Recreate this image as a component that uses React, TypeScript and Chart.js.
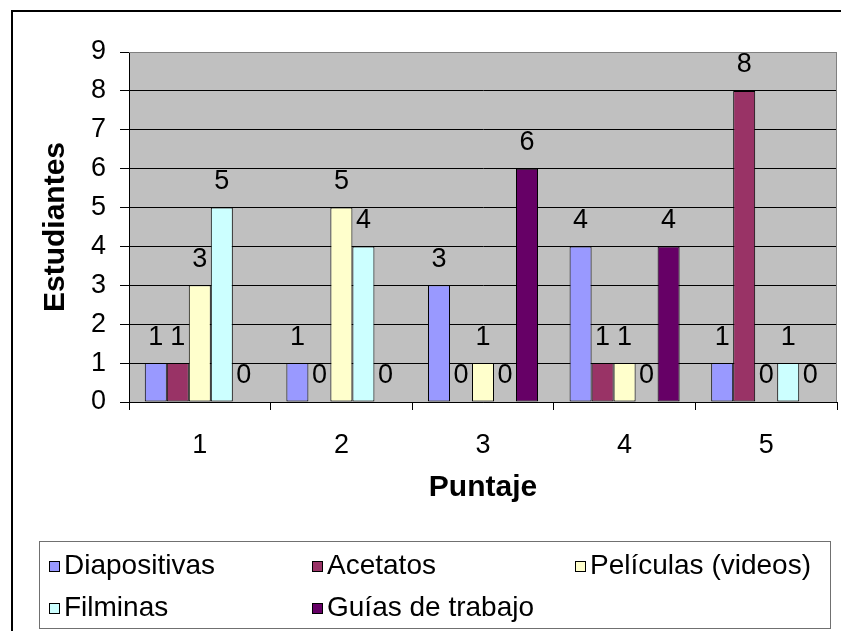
import React, { useEffect, useRef } from "react";
import { Chart, registerables } from "chart.js";

Chart.register(...registerables);

const categories = ["1", "2", "3", "4", "5"];
const diapositivas = [1, 1, 3, 4, 1];
const acetatos = [1, 0, 0, 1, 8];
const peliculas = [3, 5, 1, 1, 0];
const filminas = [5, 4, 0, 0, 1];
const guias = [0, 0, 6, 4, 0];
const seriesNames = ["Diapositivas", "Acetatos", "Películas (videos)", "Filminas", "Guías de trabajo"];
const seriesColors = ["#9999FF", "#993366", "#FFFFCC", "#CCFFFF", "#660066"];
const yMin = 0;
const yMax = 9;
const yStep = 1;
const xTitle = "Puntaje";
const yTitle = "Estudiantes";

const FONT = "'Liberation Sans', Arial, sans-serif";

const bgPlugin = {
  id: "bgPlugin",
  beforeDraw(chart: any) {
    const { ctx, chartArea } = chart;
    ctx.save();
    ctx.fillStyle = "#FFFFFF";
    ctx.fillRect(0, 0, chart.width, chart.height);
    ctx.fillStyle = "#C0C0C0";
    ctx.fillRect(chartArea.left, chartArea.top, chartArea.right - chartArea.left, chartArea.bottom - chartArea.top);
    ctx.restore();
  },
  afterDatasetsDraw(chart: any) {
    const { ctx, chartArea } = chart;
    ctx.save();
    // plot border (top/right)
    ctx.strokeStyle = "#808080";
    ctx.lineWidth = 1;
    ctx.beginPath();
    ctx.moveTo(chartArea.left, chartArea.top + 0.5);
    ctx.lineTo(chartArea.right - 0.5, chartArea.top + 0.5);
    ctx.lineTo(chartArea.right - 0.5, chartArea.bottom);
    ctx.stroke();
    // data labels
    ctx.fillStyle = "#000";
    ctx.font = `27px ${FONT}`;
    ctx.textAlign = "center";
    ctx.textBaseline = "middle";
    chart.data.datasets.forEach((ds: any, i: number) => {
      const meta = chart.getDatasetMeta(i);
      meta.data.forEach((bar: any, j: number) => {
        ctx.fillText(String(ds.data[j]), bar.x, bar.y - 26);
      });
    });
    ctx.restore();
  },
  afterDraw(chart: any) {
    const { ctx } = chart;
    ctx.save();
    // outer frame
    ctx.strokeStyle = "#000";
    ctx.lineWidth = 2;
    ctx.strokeRect(12, 11, chart.width + 20, chart.height + 20);
    // legend box
    ctx.strokeStyle = "#707070";
    ctx.lineWidth = 1;
    ctx.strokeRect(39.5, 541.5, 791, 87);
    const cols = [49, 312, 575];
    const rows = [566, 608];
    ctx.font = `28px ${FONT}`;
    ctx.textAlign = "left";
    ctx.textBaseline = "middle";
    chart.data.datasets.forEach((ds: any, i: number) => {
      const x = cols[i % 3];
      const y = rows[Math.floor(i / 3)];
      ctx.fillStyle = ds.backgroundColor;
      ctx.fillRect(x, y - 5, 10, 10);
      ctx.strokeStyle = "#000";
      ctx.strokeRect(x + 0.5, y - 4.5, 10, 10);
      ctx.fillStyle = "#000";
      ctx.fillText(ds.label, x + 15, y);
    });
    ctx.restore();
  },
};

export default function App() {
  const ref = useRef<HTMLCanvasElement>(null);
  useEffect(() => {
    document.body.style.margin = "0";
    const seriesData = [diapositivas, acetatos, peliculas, filminas, guias];
    const chart = new Chart(ref.current as HTMLCanvasElement, {
      type: "bar",
      data: {
        labels: categories,
        datasets: seriesData.map((d, i) => ({
          label: seriesNames[i],
          data: d,
          backgroundColor: seriesColors[i],
          borderColor: "#000",
          borderWidth: 1,
          borderSkipped: false,
          categoryPercentage: 0.777,
          barPercentage: 1,
        })),
      },
      options: {
        animation: false,
        responsive: false,
        devicePixelRatio: 1,
        layout: { padding: { left: 0, top: 52, right: 4, bottom: 0 } },
        plugins: { legend: { display: false }, tooltip: { enabled: false } },
        scales: {
          x: {
            offset: true,
            grid: { display: true, drawOnChartArea: false, drawTicks: true, tickLength: 8, color: "#000", offset: true },
            border: { display: true, color: "#000", width: 1 },
            ticks: { color: "#000", font: { family: FONT, size: 27 }, padding: 19, maxRotation: 0 },
            title: { display: true, text: xTitle, color: "#000", font: { family: FONT, size: 30, weight: "bold" }, padding: { top: 0, bottom: 125 } },
            afterFit: (s: any) => { s.height = 229; },
          },
          y: {
            min: yMin,
            max: yMax,
            grid: {
              color: (c: any) => (c.tick && c.tick.value === yMax ? "#808080" : "#000"),
              tickColor: "#000",
              tickLength: 9,
              lineWidth: 1,
            },
            border: { display: true, color: "#000", width: 1 },
            ticks: { stepSize: yStep, color: "#000", font: { family: FONT, size: 27 }, padding: 14 },
            title: { display: true, text: yTitle, color: "#000", font: { family: FONT, size: 30, weight: "bold" }, padding: { top: 38, bottom: 0 } },
            afterFit: (s: any) => { s.width = 129; },
          },
        },
      },
      plugins: [bgPlugin],
    });
    return () => chart.destroy();
  }, []);
  return (
    <canvas ref={ref} width={841} height={631} style={{ position: "absolute", left: 0, top: 0, display: "block" }} />
  );
}
